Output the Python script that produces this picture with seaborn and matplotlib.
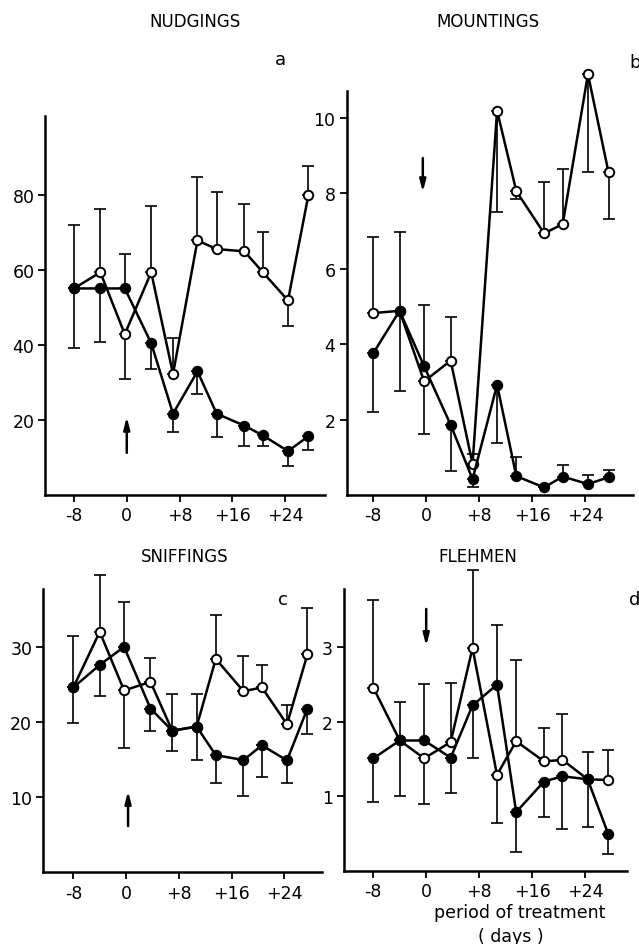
""" Four panels of behaviour counts around a treatment period. """

import numpy as np
import pandas as pd
import seaborn as sns
import matplotlib.pyplot as plt

# Sampling days (relative to start of treatment)
days = [-8, -4, -0.3, 3.7, 7, 10.7, 13.6, 17.8, 20.6, 24.4, 27.5]
xtick_vals = [-8, 0, 8, 16, 24]
xtick_labels = ["-8", "0", "+8", "+16", "+24"]

# Nudgings: means and the end of the drawn SD bar
nud_open = [55, 59.3, 42.8, 59.3, 32.2, 67.8, 65.5, 64.9, 59.3, 51.8, 80]
nud_open_bar = [72, 76.2, 30.8, 76.9, 41.9, 84.6, 80.7, 77.6, 70, 45, 87.6]
nud_filled = [55, 55, 55, 40.4, 21.6, 32.9, 21.6, 18.4, 15.8, 11.6, 15.6]
nud_filled_bar = [39, 40.8, 64.3, 33.5, 16.6, 26.8, 15.3, 12.9, 12.9, 7.6, 12]

# Mountings
mount_open = [4.82, 4.88, 3.01, 3.56, 0.82, 10.18, 8.05, 6.93, 7.18, 11.15, 8.55]
mount_open_bar = [6.83, 6.98, 1.62, 4.71, 1.09, 7.5, 7.84, 8.28, 8.64, 8.55, 7.31]
mount_filled = [3.75, 4.88, 3.41, 1.86, 0.42, 2.92, 0.5, 0.2, 0.49, 0.29, 0.47]
mount_filled_bar = [2.19, 2.75, 5.03, 0.64, 0.2, 1.37, 1.0, 0.2, 0.79, 0.53, 0.67]

# Sniffings
sniff_open = [24.6, 32.0, 24.2, 25.35, 18.85, 19.4, 28.4, 24.1, 24.6, 19.7, 29.0]
sniff_open_bar = [31.5, 39.5, 16.6, 28.5, 23.7, 23.7, 34.3, 28.8, 27.6, 22.25, 35.2]
sniff_filled = [24.6, 27.6, 30.0, 21.8, 18.85, 19.4, 15.6, 14.95, 16.9, 14.9, 21.8]
sniff_filled_bar = [19.9, 23.4, 35.9, 18.85, 16.2, 15.0, 11.9, 10.2, 12.7, 11.95, 18.4]

# Flehmen
fle_open = [2.46, 1.75, 1.51, 1.73, 2.99, 1.29, 1.74, 1.47, 1.49, 1.23, 1.22]
fle_open_bar = [3.63, 2.26, 0.9, 2.52, 4.03, 0.64, 2.83, 1.92, 2.1, 1.6, 1.62]
fle_filled = [1.51, 1.75, 1.75, 1.52, 2.22, 2.5, 0.79, 1.2, 1.27, 1.23, 0.5]
fle_filled_bar = [0.93, 1.0, 2.51, 1.04, 1.51, 3.3, 0.26, 0.73, 0.56, 0.59, 0.23]


def draw_series(ax, y, bar_end, filled):
    """ Draw one line with one-sided SD bars. """
    y = np.array(y)
    bar_end = np.array(bar_end)
    lo = np.clip(y - bar_end, 0, None)
    hi = np.clip(bar_end - y, 0, None)
    ax.errorbar(days, y, yerr=[lo, hi], fmt="none", ecolor="black",
                elinewidth=1.2, capsize=4.5, capthick=1.2, zorder=1,
                clip_on=False)
    df = pd.DataFrame({"day": days, "value": y})
    sns.lineplot(data=df, x="day", y="value", ax=ax, color="black",
                 linewidth=1.8, marker="o", markersize=6.8,
                 markerfacecolor="black" if filled else "white",
                 markeredgecolor="black", markeredgewidth=1.4,
                 sort=False, errorbar=None, zorder=3, clip_on=False)


def draw_panel(fig, rect, xlim, ylim, yticks, series, arrow):
    ax = fig.add_axes(rect)
    for y, bar_end, filled in series:
        draw_series(ax, y, bar_end, filled)
    ax.set_xlim(*xlim)
    ax.set_ylim(*ylim)
    ax.set_xticks(xtick_vals, labels=xtick_labels)
    ax.set_yticks(yticks)
    ax.set_xlabel("")
    ax.set_ylabel("")
    ax.tick_params(direction="out", length=5, width=1.3, labelsize=12.5,
                   color="black", labelcolor="black", pad=3)
    for side in ["top", "right"]:
        ax.spines[side].set_visible(False)
    for side in ["left", "bottom"]:
        ax.spines[side].set_linewidth(1.8)
        ax.spines[side].set_color("black")
    ax.patch.set_alpha(0)
    x0, y_from, y_to = arrow
    ax.annotate("", xy=(x0, y_to), xytext=(x0, y_from),
                arrowprops=dict(arrowstyle="-|>,head_length=0.7,head_width=0.18",
                                color="black", lw=1.8))
    return ax


def main() -> None:
    """ Main function. """
    sns.set_style("ticks")
    plt.rcParams["font.family"] = ["DejaVu Sans"]
    plt.rcParams["text.color"] = "black"

    fig = plt.figure(figsize=(6.39, 9.45), dpi=100)

    draw_panel(fig, [0.0712, 0.4755, 0.4374, 0.4007], (-12.3, 30.0), (0, 101),
               [20, 40, 60, 80],
               [(nud_open, nud_open_bar, False),
                (nud_filled, nud_filled_bar, True)],
               (0, 10.4, 21.5))
    draw_panel(fig, [0.5423, 0.4751, 0.4484, 0.4278], (-12.0, 31.2), (0, 10.71),
               [2, 4, 6, 8, 10],
               [(mount_open, mount_open_bar, False),
                (mount_filled, mount_filled_bar, True)],
               (-0.5, 9.0, 7.95))
    draw_panel(fig, [0.0678, 0.0757, 0.4357, 0.3000], (-12.55, 29.67), (0, 37.7),
               [10, 20, 30],
               [(sniff_open, sniff_open_bar, False),
                (sniff_filled, sniff_filled_bar, True)],
               (0.3, 5.8, 11.2))
    draw_panel(fig, [0.5383, 0.0772, 0.4424, 0.2984], (-12.43, 30.3), (0, 3.78),
               [1, 2, 3],
               [(fle_open, fle_open_bar, False),
                (fle_filled, fle_filled_bar, True)],
               (0, 3.55, 2.98))

    W, H = 639, 945
    titles = [("NUDGINGS", 195, 22), ("MOUNTINGS", 488, 22),
              ("SNIFFINGS", 185, 557), ("FLEHMEN", 478, 557)]
    for text, x, y in titles:
        fig.text(x / W, 1 - y / H, text, ha="center", va="center", fontsize=12)
    letters = [("a", 280, 60), ("b", 635, 63), ("c", 283, 600), ("d", 635, 600)]
    for text, x, y in letters:
        fig.text(x / W, 1 - y / H, text, ha="center", va="center", fontsize=13)

    fig.text(520 / W, 1 - 913 / H, "period of treatment", ha="center",
             va="center", fontsize=12.5)
    fig.text(511 / W, 1 - 937 / H, "( days )", ha="center", va="center",
             fontsize=12.5)

    fig.savefig("out.png", dpi=100)


if __name__ == "__main__":
    main()
